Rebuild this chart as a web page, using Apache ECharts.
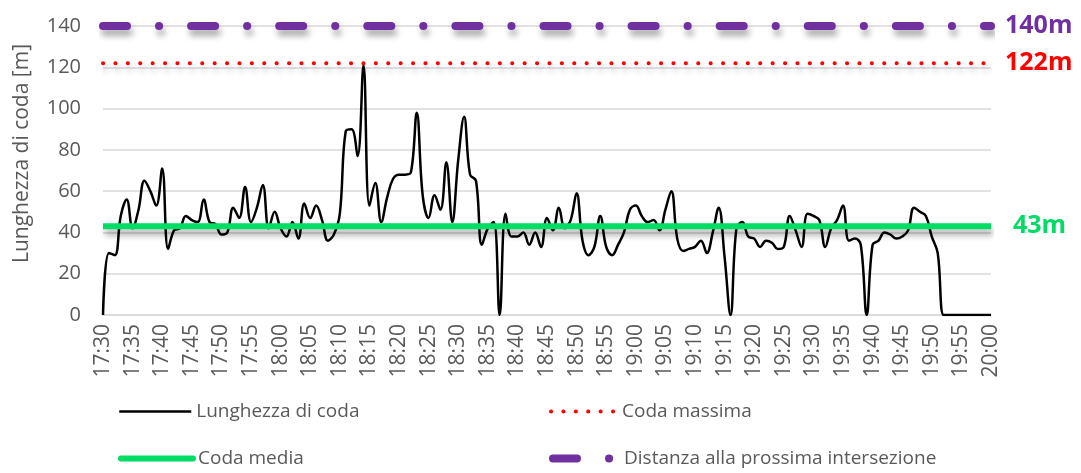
<!DOCTYPE html>
<html>
<head>
<meta charset="utf-8">
<script src="https://cdn.jsdelivr.net/npm/echarts@6/dist/echarts.min.js"></script>
<style>
html,body{margin:0;padding:0;background:#fff;}
#chart{width:1081px;height:473px;}
</style>
</head>
<body>
<div id="chart"></div>
<script>
const categories = [
'17:30','17:31','17:32','17:33','17:34','17:35','17:36','17:37','17:38','17:39',
'17:40','17:41','17:42','17:43','17:44','17:45','17:46','17:47','17:48','17:49',
'17:50','17:51','17:52','17:53','17:54','17:55','17:56','17:57','17:58','17:59',
'18:00','18:01','18:02','18:03','18:04','18:05','18:06','18:07','18:08','18:09',
'18:10','18:11','18:12','18:13','18:14','18:15','18:16','18:17','18:18','18:19',
'18:20','18:21','18:22','18:23','18:24','18:25','18:26','18:27','18:28','18:29',
'18:30','18:31','18:32','18:33','18:34','18:35','18:36','18:37','18:38','18:39',
'18:40','18:41','18:42','18:43','18:44','18:45','18:46','18:47','18:48','18:49',
'18:50','18:51','18:52','18:53','18:54','18:55','18:56','18:57','18:58','18:59',
'19:00','19:01','19:02','19:03','19:04','19:05','19:06','19:07','19:08','19:09',
'19:10','19:11','19:12','19:13','19:14','19:15','19:16','19:17','19:18','19:19',
'19:20','19:21','19:22','19:23','19:24','19:25','19:26','19:27','19:28','19:29',
'19:30','19:31','19:32','19:33','19:34','19:35','19:36','19:37','19:38','19:39',
'19:40','19:41','19:42','19:43','19:44','19:45','19:46','19:47','19:48','19:49',
'19:50','19:51','19:52','19:53','19:54','19:55','19:56','19:57','19:58','19:59',
'20:00'];

// Lunghezza di coda [m], one value per minute
const queueLength = [
0,30,29,48,56,42,51,65,60,53,
71,32,41,42,48,46,45,56,45,44,
39,40,52,47,62,45,52,63,42,50,
42,38,45,37,54,47,53,46,36,39,
49,89,90,77,121,53,64,45,57,66,
68,68,69,98,58,47,58,51,74,45,
75,96,68,65,34,42,45,0,49,38,
38,40,34,40,33,47,41,52,42,46,
59,36,29,33,48,33,29,34,40,51,
53,48,45,46,41,51,60,37,31,32,
33,36,30,40,52,28,0,42,45,38,
37,33,36,35,32,33,48,41,33,49,
48,46,33,42,46,53,36,37,34,0,
34,36,40,39,37,38,41,52,50,48,
38,30,0,0,0,0,0,0,0,0,
0];

const maxQueue = 122;          // Coda massima
const avgQueue = 43;           // Coda media
const nextIntersection = 140;  // Distanza alla prossima intersezione

const yTicks = [0, 20, 40, 60, 80, 100, 120, 140];

const FONT = 'Open Sans';
const GREY = '#595959';
const RED = '#FF0000', GREEN = '#00DC64', PURPLE = '#7030A0';
const SHADOW = {shadowColor: 'rgba(0,0,0,0.33)', shadowBlur: 6, shadowOffsetX: 2, shadowOffsetY: 6};
const DOTS = [0.1, 12.3];
const DASHDOT = [24, 32, 0.1, 32];
const NO_SHADOW = {shadowBlur: 0, shadowOffsetX: 0, shadowOffsetY: 0};

function flat(v) {
  return [[categories[0], v], [categories[categories.length - 1], v]];
}

const chart = echarts.init(document.getElementById('chart'), null, {renderer: 'canvas'});

function legendAt(name, left, top, width, lineStyle) {
  return {
    data: [name], left: left, top: top, orient: 'horizontal',
    padding: 0,
    itemWidth: width, itemHeight: 14, itemGap: 0,
    itemStyle: {opacity: 0},
    lineStyle: Object.assign(lineStyle, NO_SHADOW),
    textStyle: {fontFamily: FONT, fontSize: 19, color: GREY},
    selectedMode: false
  };
}

chart.setOption({
  animation: false,
  backgroundColor: '#ffffff',
  grid: {left: 103, right: 90, top: 26, bottom: 158, containLabel: false},
  legend: [
    legendAt('Lunghezza di coda', 118, 402, 72, {color: '#000000', width: 2.5, type: 'solid'}),
    legendAt('Coda massima', 549, 402, 66, {color: RED, width: 4, type: DOTS, cap: 'round'}),
    legendAt('Coda media', 118, 449, 72, {color: GREEN, width: 6, type: 'solid', cap: 'round'}),
    legendAt('Distanza alla prossima intersezione', 549, 449, 66, {color: PURPLE, width: 8, type: DASHDOT, cap: 'round'})
  ],
  xAxis: {
    type: 'category',
    data: categories,
    boundaryGap: false,
    axisLine: {show: true, lineStyle: {color: '#D9D9D9', width: 1.5}},
    axisTick: {show: false},
    axisLabel: {
      interval: 4, rotate: 90, margin: 9,
      fontFamily: FONT, fontSize: 21, color: GREY
    },
    splitLine: {show: false}
  },
  yAxis: {
    type: 'value',
    min: yTicks[0], max: yTicks[yTicks.length - 1], interval: 20,
    name: 'Lunghezza di coda [m]',
    nameLocation: 'middle',
    nameGap: 70,
    nameRotate: 90,
    nameTextStyle: {fontFamily: FONT, fontSize: 21, color: GREY, padding: [0, 0, 0, 34]},
    axisLine: {show: false},
    axisTick: {show: false},
    axisLabel: {fontFamily: FONT, fontSize: 20, color: GREY, margin: 22},
    splitLine: {lineStyle: {color: '#D9D9D9', width: 1.5}}
  },
  series: [
    {
      name: 'Lunghezza di coda',
      type: 'line',
      data: queueLength,
      smooth: 0.4,
      symbol: 'none',
      lineStyle: {color: '#000000', width: 2.5},
      itemStyle: {color: '#000000'},
      z: 2
    },
    {
      name: 'Coda massima',
      type: 'line',
      data: flat(maxQueue),
      symbol: 'none',
      lineStyle: Object.assign({color: RED, width: 4, type: DOTS, cap: 'round'}, SHADOW),
      itemStyle: {color: RED},
      endLabel: {show: true, formatter: maxQueue + 'm', color: RED, fontFamily: FONT, fontWeight: 'bold', fontSize: 25, distance: 14},
      z: 3
    },
    {
      name: 'Coda media',
      type: 'line',
      data: flat(avgQueue),
      symbol: 'none',
      lineStyle: Object.assign({color: GREEN, width: 6}, SHADOW),
      itemStyle: {color: GREEN},
      endLabel: {show: true, formatter: avgQueue + 'm', color: GREEN, fontFamily: FONT, fontWeight: 'bold', fontSize: 25, distance: 22},
      z: 4
    },
    {
      name: 'Distanza alla prossima intersezione',
      type: 'line',
      data: flat(nextIntersection),
      symbol: 'none',
      lineStyle: Object.assign({color: PURPLE, width: 8, type: DASHDOT, cap: 'round'}, SHADOW),
      itemStyle: {color: PURPLE},
      endLabel: {show: true, formatter: nextIntersection + 'm', color: PURPLE, fontFamily: FONT, fontWeight: 'bold', fontSize: 25, distance: 14},
      z: 5
    }
  ]
});
</script>
</body>
</html>
